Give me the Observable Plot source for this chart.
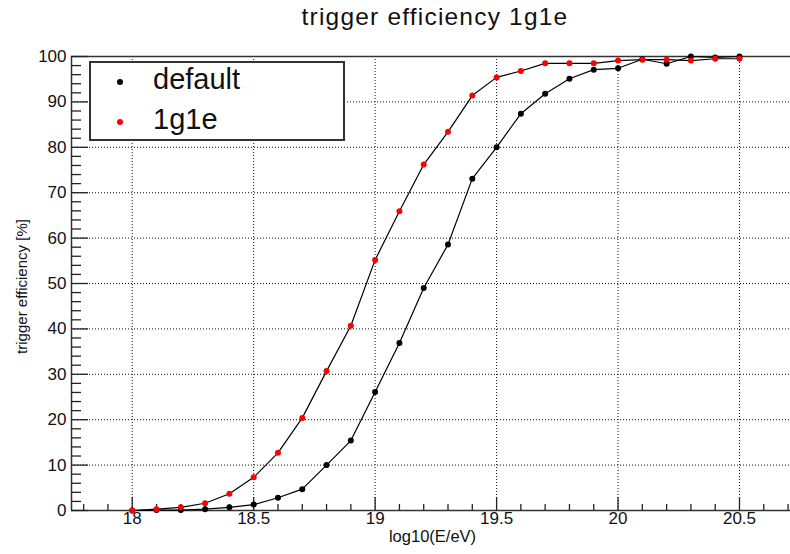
<!DOCTYPE html>
<html><head><meta charset="utf-8">
<script src="https://cdn.jsdelivr.net/npm/d3@7"></script>
<script src="https://cdn.jsdelivr.net/npm/@observablehq/plot@0.6"></script>
<style>
body{margin:0;background:#fff;font-family:"Liberation Sans",Arial,Helvetica,sans-serif;}
#wrap{position:relative;width:790px;height:554px;overflow:hidden;}
#title{position:absolute;left:0;width:870px;top:3px;text-align:center;font-size:24.5px;letter-spacing:1.2px;color:#111;}
#legend{position:absolute;left:89px;top:61px;width:252px;height:76px;border:2px solid #333;background:#fff;}
.lrow{position:absolute;left:0;height:30px;}
.ldot{position:absolute;width:6px;height:6px;border-radius:50%;}
.ltxt{position:absolute;left:62px;font-size:29px;color:#111;white-space:nowrap;}
</style>
</head><body>
<div id="wrap">
  <div id="title">trigger efficiency 1g1e</div>
  <div id="chart"></div>
  <div id="legend"></div>
</div>
<script>
const energies = [18.0,18.1,18.2,18.3,18.4,18.5,18.6,18.7,18.8,18.9,19.0,19.1,19.2,19.3,19.4,19.5,19.6,19.7,19.8,19.9,20.0,20.1,20.2,20.3,20.4,20.5];
const defaultEff = [0,0.1,0.1,0.3,0.7,1.3,2.8,4.7,10.0,15.4,26.1,36.9,49.0,58.6,73.1,80.0,87.4,91.8,95.1,97.1,97.4,99.4,98.4,100,99.8,100];
const g1eEff = [0,0.3,0.7,1.6,3.7,7.3,12.7,20.4,30.7,40.7,55.2,65.9,76.2,83.4,91.4,95.4,96.8,98.5,98.5,98.5,99.1,99.3,99.3,99.1,99.5,99.5];
const seriesNames = ["default","1g1e"];
const seriesColors = ["#000000","#ff0000"];
const xMajorTicks = [18,18.5,19,19.5,20,20.5];
const xMinorTicks = [17.8,17.9,18.1,18.2,18.3,18.4,18.6,18.7,18.8,18.9,19.1,19.2,19.3,19.4,19.6,19.7,19.8,19.9,20.1,20.2,20.3,20.4,20.6,20.7];
const yMajorTicks = [0,10,20,30,40,50,60,70,80,90,100];
const yMinorTicks = [2,4,6,8,12,14,16,18,22,24,26,28,32,34,36,38,42,44,46,48,52,54,56,58,62,64,66,68,72,74,76,78,82,84,86,88,92,94,96,98];
const xLabel = "log10(E/eV)";
const yLabel = "trigger efficiency [%]";

const defaultRows = energies.map((e,i)=>({x:e,y:defaultEff[i]}));
const g1eRows = energies.map((e,i)=>({x:e,y:g1eEff[i]}));

const W = 790, H = 554, mL = 71, mR = 0, mT = 56, mB = 44;
const innerW = W - mL - mR, innerH = H - mT - mB;
const font = '"Liberation Sans",Arial,Helvetica,sans-serif';

const chart = Plot.plot({
  width: W, height: H,
  marginLeft: mL, marginRight: mR, marginTop: mT, marginBottom: mB,
  style: {fontFamily: font, background: "#fff", color: "#111"},
  x: {domain: [17.75, 20.71], axis: null},
  y: {domain: [0, 100], axis: null},
  marks: [
    Plot.ruleX(xMajorTicks, {x: d=>d, stroke: "#111", strokeWidth: 1, strokeDasharray: "1,2"}),
    Plot.ruleY(yMajorTicks.filter(d=>d>0 && d<100), {y: d=>d, stroke: "#111", strokeWidth: 1, strokeDasharray: "1,2"}),
    Plot.ruleY([0,100], {y: d=>d, stroke: "#333", strokeWidth: 1.5}),
    Plot.ruleX([17.75], {x: d=>d, stroke: "#333", strokeWidth: 1.5}),
    Plot.ruleX(xMajorTicks, {x: d=>d, insetTop: innerH - 13, stroke: "#222", strokeWidth: 1.3}),
    Plot.ruleX(xMinorTicks, {x: d=>d, insetTop: innerH - 6, stroke: "#222", strokeWidth: 1.3}),
    Plot.ruleY(yMajorTicks, {y: d=>d, insetRight: innerW - 17, stroke: "#222", strokeWidth: 1.3}),
    Plot.ruleY(yMinorTicks, {y: d=>d, insetRight: innerW - 10, stroke: "#222", strokeWidth: 1.3}),
    Plot.text(xMajorTicks, {x: d=>d, frameAnchor: "bottom", dy: 13, text: d=>String(d), fontSize: 17, fill: "#111"}),
    Plot.text(yMajorTicks, {y: d=>d, frameAnchor: "left", dx: -5, textAnchor: "end", text: d=>String(d), fontSize: 17, fill: "#111"}),
    Plot.text([xLabel], {frameAnchor: "bottom", dx: 1.5, dy: 31, text: d=>d, fontSize: 16.5, fill: "#111", style: "letter-spacing:0.6px"}),
    Plot.text([yLabel], {frameAnchor: "left", textAnchor: "middle", dx: -49, dy: 3, rotate: -90, text: d=>d, fontSize: 15, fill: "#111", style: "letter-spacing:0.5px"}),
    Plot.line(defaultRows, {x: "x", y: "y", stroke: "#000", strokeWidth: 1.2}),
    Plot.dot(defaultRows, {x: "x", y: "y", r: 3, fill: seriesColors[0], stroke: "none"}),
    Plot.line(g1eRows, {x: "x", y: "y", stroke: "#000", strokeWidth: 1.2}),
    Plot.dot(g1eRows, {x: "x", y: "y", r: 3, fill: seriesColors[1], stroke: "none"})
  ]
});
document.getElementById("chart").appendChild(chart);

const legend = document.getElementById("legend");
seriesNames.forEach((name, i) => {
  const row = document.createElement("div");
  row.className = "lrow";
  row.style.top = (i*40 + 4) + "px";
  const dot = document.createElement("div");
  dot.className = "ldot";
  dot.style.background = seriesColors[i];
  dot.style.left = "26px";
  dot.style.top = "12px";
  const txt = document.createElement("div");
  txt.className = "ltxt";
  txt.style.top = "-4px";
  txt.textContent = name;
  row.appendChild(dot); row.appendChild(txt);
  legend.appendChild(row);
});
</script>
</body></html>
